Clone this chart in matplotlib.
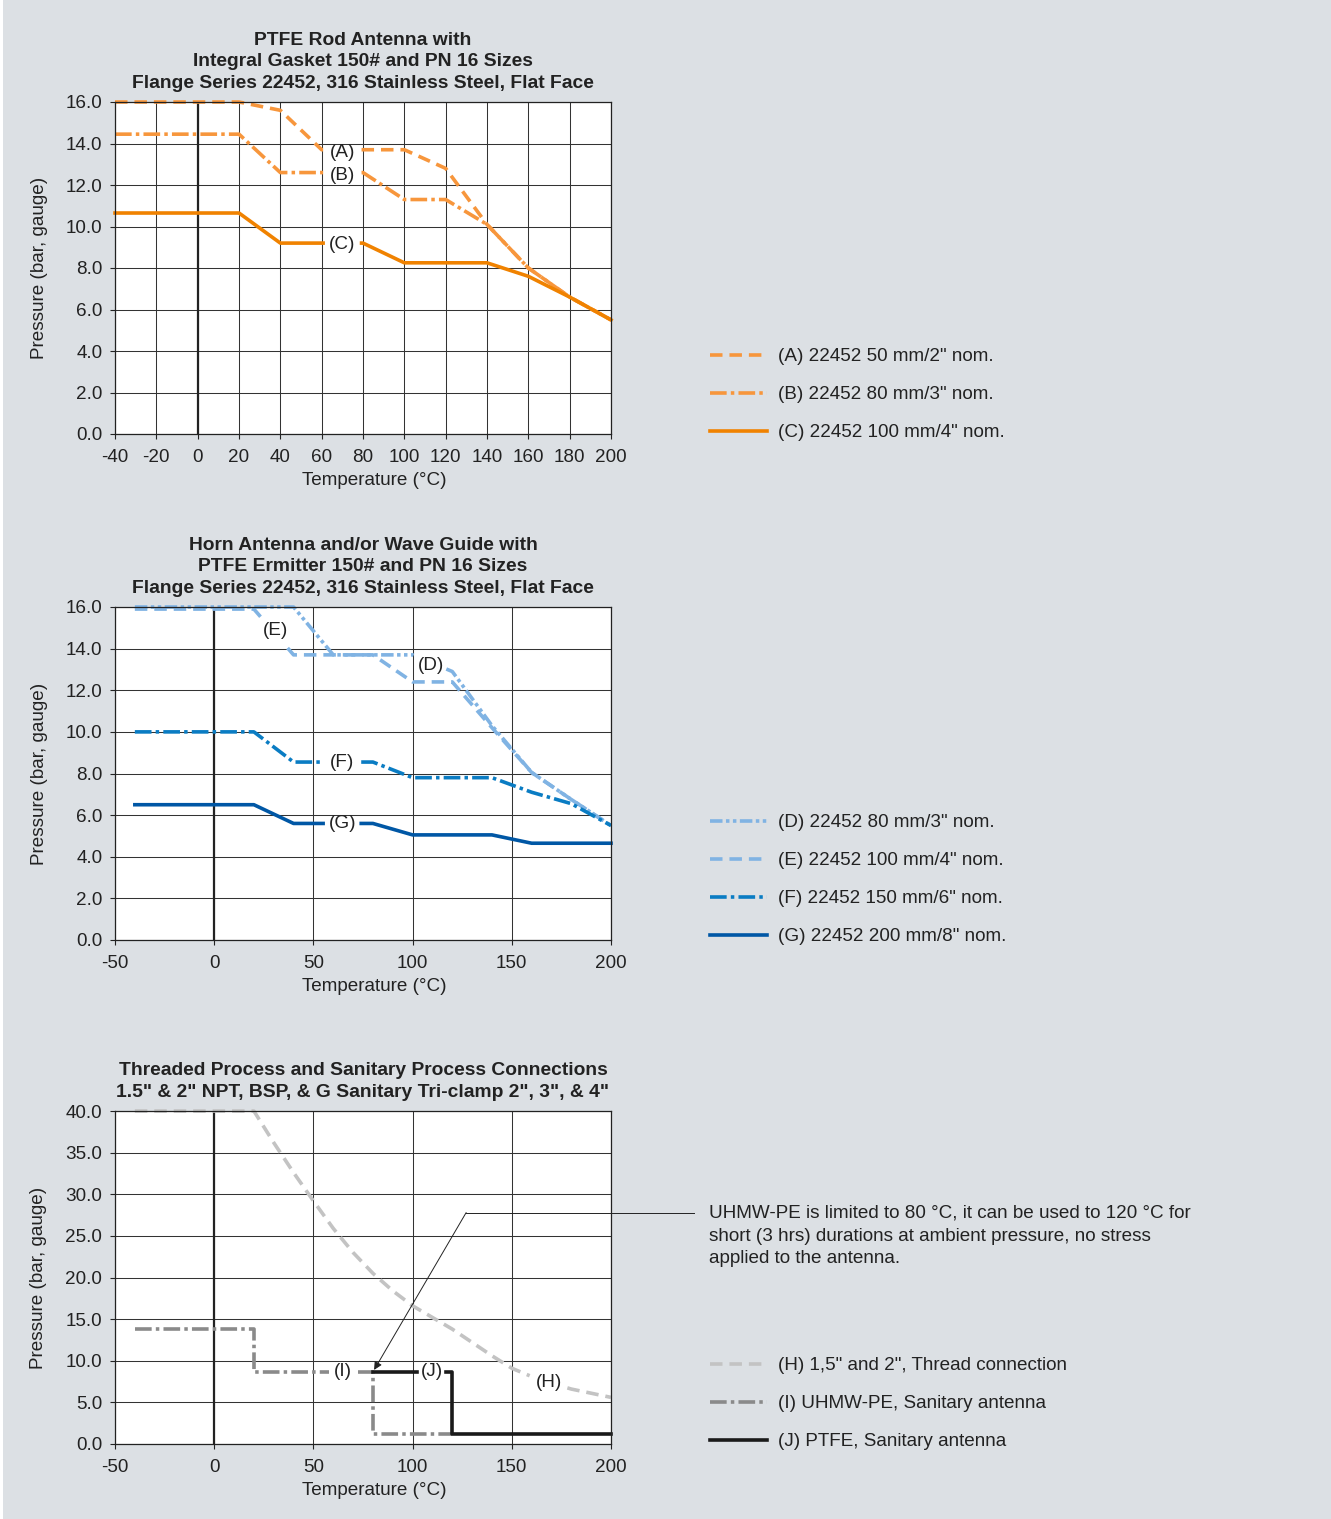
import numpy as np
import matplotlib
matplotlib.use("Agg")
import matplotlib.pyplot as plt
from matplotlib.patches import Rectangle

plt.rcParams['font.family'] = ['Liberation Sans', 'DejaVu Sans']
plt.rcParams['lines.scale_dashes'] = False
plt.rcParams['axes.unicode_minus'] = False
plt.rcParams['text.color'] = '#222222'

# ---------------- data ----------------
# Chart 1: PTFE rod antenna
t_A = [-40, 20, 40, 60, 100, 120, 140, 160, 180, 200]
p_A = [16.0, 16.0, 15.6, 13.7, 13.7, 12.8, 10.1, 8.0, 6.6, 5.5]
t_B = [-40, 20, 40, 80, 100, 120, 140, 160, 180, 200]
p_B = [14.45, 14.45, 12.6, 12.6, 11.3, 11.3, 10.1, 8.0, 6.6, 5.5]
t_C = [-40, 20, 40, 80, 100, 140, 160, 180, 200]
p_C = [10.65, 10.65, 9.2, 9.2, 8.25, 8.25, 7.6, 6.6, 5.5]

# Chart 2: Horn antenna / wave guide
t_D = [-40, 40, 60, 100, 120, 140, 160, 180, 200]
p_D = [16.0, 16.0, 13.7, 13.7, 12.9, 10.3, 8.05, 6.75, 5.5]
t_E = [-40, 20, 40, 80, 100, 120, 140, 160, 180, 200]
p_E = [15.9, 15.9, 13.7, 13.7, 12.4, 12.4, 10.2, 8.05, 6.75, 5.5]
t_F = [-40, 20, 40, 80, 100, 140, 160, 180, 200]
p_F = [10.0, 10.0, 8.55, 8.55, 7.8, 7.8, 7.1, 6.55, 5.5]
t_G = [-40, 20, 40, 80, 100, 140, 160, 200]
p_G = [6.5, 6.5, 5.6, 5.6, 5.05, 5.05, 4.65, 4.65]

# Chart 3: Threaded / sanitary
t_H = [-40, 20, 30, 40, 50, 60, 70, 80, 90, 100, 110, 120, 130, 140, 150, 160, 170, 180, 190, 200]
p_H = [40.0, 40.0, 36.2, 32.6, 29.2, 25.9, 23.0, 20.5, 18.4, 16.6, 15.2, 13.8, 12.2, 10.6, 9.1, 8.1, 7.3, 6.6, 6.1, 5.6]
t_I = [-40, 20, 20, 80, 80, 120]
p_I = [13.8, 13.8, 8.7, 8.7, 1.2, 1.2]
t_J = [80, 120, 120, 200]
p_J = [8.7, 8.7, 1.2, 1.2]

labels1 = ['(A) 22452 50 mm/2" nom.', '(B) 22452 80 mm/3" nom.', '(C) 22452 100 mm/4" nom.']
labels2 = ['(D) 22452 80 mm/3" nom.', '(E) 22452 100 mm/4" nom.',
           '(F) 22452 150 mm/6" nom.', '(G) 22452 200 mm/8" nom.']
labels3 = ['(H) 1,5" and 2", Thread connection', '(I) UHMW-PE, Sanitary antenna',
           '(J) PTFE, Sanitary antenna']

titles = ["PTFE Rod Antenna with\nIntegral Gasket 150# and PN 16 Sizes\nFlange Series 22452, 316 Stainless Steel, Flat Face",
          "Horn Antenna and/or Wave Guide with\nPTFE Ermitter 150# and PN 16 Sizes\nFlange Series 22452, 316 Stainless Steel, Flat Face",
          "Threaded Process and Sanitary Process Connections\n1.5\" & 2\" NPT, BSP, & G Sanitary Tri-clamp 2\", 3\", & 4\""]

note = ("UHMW-PE is limited to 80 \u00b0C, it can be used to 120 \u00b0C for\n"
        "short (3 hrs) durations at ambient pressure, no stress\n"
        "applied to the antenna.")

# ---------------- style ----------------
W, H = 1331, 1519
BG = '#dce0e4'
FS = 13.6
TFS = 13.9
ORANGE_L = '#f7963c'
ORANGE = '#f08200'
BLUE_L = '#80b3e3'
BLUE_M = '#0a7cc3'
BLUE_D = '#0057a5'
GRAY_L = '#c3c3c3'
GRAY_M = '#8a8a8a'
BLACK = '#1a1a1a'
TXT = '#222222'

DASH = (0, (9, 5))
DASHDOT = (0, (12, 3, 2.5, 3))
DASHDOTDOT = (0, (9, 2.5, 2.5, 2.5, 2.5, 2.5))

fig = plt.figure(figsize=(W / 100, H / 100), dpi=100, facecolor=BG)
fig.patches.append(Rectangle((0, 0), 3 / W, 1, transform=fig.transFigure,
                             facecolor='white', edgecolor='none', zorder=0))


def make_axes(top_px, bottom_px):
    ax = fig.add_axes([115 / W, 1 - bottom_px / H, 496 / W, (bottom_px - top_px) / H])
    ax.set_facecolor('white')
    ax.grid(True, color='#333333', lw=0.75)
    ax.set_axisbelow(True)
    for s in ax.spines.values():
        s.set_color(TXT)
        s.set_linewidth(0.9)
    ax.tick_params(direction='out', length=3.6, width=0.8, color=TXT,
                   labelsize=FS, pad=5.5, labelcolor=TXT)
    ax.tick_params(axis='x', pad=7.5)
    ax.set_xlabel('Temperature (\u00b0C)', fontsize=FS, labelpad=4.5, color=TXT)
    ax.xaxis.set_label_coords(0.522, -0.115)
    ax.set_ylabel('Pressure (bar, gauge)', fontsize=FS, labelpad=13, color=TXT)
    ax.axvline(0, color=TXT, lw=1.6, zorder=1.5)
    return ax


def plot_gap(ax, x, y, gap, **kw):
    x = np.asarray(x, float)
    y = np.asarray(y, float)
    if gap is None:
        return ax.plot(x, y, **kw)[0]
    g0, g1 = gap
    ml = x < g0
    mr = x > g1
    xs = np.r_[x[ml], g0, np.nan, g1, x[mr]]
    ys = np.r_[y[ml], np.interp(g0, x, y), np.nan, np.interp(g1, x, y), y[mr]]
    return ax.plot(xs, ys, **kw)[0]


def label(ax, x, y, s):
    ax.text(x, y, s, fontsize=FS, ha='center', va='center', color=TXT, zorder=5)


def legend(ax, handles, labels, top_px):
    ax.legend(handles, labels, loc='upper left',
              bbox_to_anchor=(710 / W, 1 - top_px / H), bbox_transform=fig.transFigure,
              frameon=False, fontsize=FS, handlelength=3.0, handletextpad=0.58,
              labelspacing=1.1, borderpad=0, borderaxespad=0, labelcolor=TXT)


def title(ax, s):
    ax.set_title(s, fontsize=TFS, fontweight='bold', pad=10, color=TXT, linespacing=1.36)


LW = 2.6

# ---------------- chart 1 ----------------
ax1 = make_axes(102, 434)
ax1.set_xlim(-40, 200)
ax1.set_ylim(0, 16)
ax1.set_xticks(np.arange(-40, 201, 20))
ax1.set_yticks(np.arange(0, 16.1, 2))
ax1.yaxis.set_major_formatter(matplotlib.ticker.FormatStrFormatter('%.1f'))
hw1 = 9.3
lA = plot_gap(ax1, t_A, p_A, (70 - hw1, 70 + hw1), color=ORANGE_L, lw=LW, ls=DASH, clip_on=False)
lB = plot_gap(ax1, t_B, p_B, (70 - hw1, 70 + hw1), color=ORANGE_L, lw=LW, ls=DASHDOT, clip_on=False)
lC = plot_gap(ax1, t_C, p_C, (70 - hw1, 70 + hw1), color=ORANGE, lw=LW, clip_on=False)
label(ax1, 70, 13.55, '(A)')
label(ax1, 70, 12.45, '(B)')
label(ax1, 70, 9.15, '(C)')
title(ax1, titles[0])
legend(ax1, [lA, lB, lC], labels1, 348)

# ---------------- chart 2 ----------------
ax2 = make_axes(607, 940)
ax2.set_xlim(-50, 200)
ax2.set_ylim(0, 16)
ax2.set_xticks(np.arange(-50, 201, 50))
ax2.set_yticks(np.arange(0, 16.1, 2))
ax2.yaxis.set_major_formatter(matplotlib.ticker.FormatStrFormatter('%.1f'))
hw2 = 9.6
lD = plot_gap(ax2, t_D, p_D, (100.5, 117), color=BLUE_L, lw=LW, ls=DASHDOTDOT, clip_on=False)
lE = plot_gap(ax2, t_E, p_E, (30.5 - 6.5, 30.5 + 6.5), color=BLUE_L, lw=LW, ls=DASH, clip_on=False)
lF = plot_gap(ax2, t_F, p_F, (64.5 - hw2, 64.5 + hw2), color=BLUE_M, lw=LW, ls=DASHDOT, clip_on=False)
lG = plot_gap(ax2, t_G, p_G, (64.5 - hw2, 64.5 + hw2), color=BLUE_D, lw=LW, clip_on=False)
label(ax2, 31, 14.85, '(E)')
label(ax2, 109.5, 13.2, '(D)')
label(ax2, 64.5, 8.55, '(F)')
label(ax2, 64.5, 5.6, '(G)')
title(ax2, titles[1])
legend(ax2, [lD, lE, lF, lG], labels2, 814)

# ---------------- chart 3 ----------------
ax3 = make_axes(1111, 1444)
ax3.set_xlim(-50, 200)
ax3.set_ylim(0, 40)
ax3.set_xticks(np.arange(-50, 201, 50))
ax3.set_yticks(np.arange(0, 40.1, 5))
ax3.yaxis.set_major_formatter(matplotlib.ticker.FormatStrFormatter('%.1f'))
lH = plot_gap(ax3, t_H, p_H, (159, 178), color=GRAY_L, lw=LW, ls=DASH, clip_on=False)
lI = plot_gap(ax3, t_I, p_I, (58, 72.5), color=GRAY_M, lw=LW, ls=DASHDOT, clip_on=False)
lJ = plot_gap(ax3, t_J, p_J, (102, 117), color=BLACK, lw=LW, clip_on=False)
label(ax3, 65, 8.7, '(I)')
label(ax3, 109.5, 8.7, '(J)')
label(ax3, 168.5, 7.4, '(H)')
title(ax3, titles[2])
legend(ax3, [lH, lI, lJ], labels3, 1357)

# annotation
ax3.plot([127, 242], [27.8, 27.8], color=TXT, lw=0.7, clip_on=False, zorder=6)
ax3.annotate('', xy=(80.6, 8.9), xytext=(127, 27.8),
             arrowprops=dict(arrowstyle='-|>', color=TXT, lw=0.7,
                             mutation_scale=12, shrinkA=0, shrinkB=0), zorder=6)
fig.text(709 / W, 1 - 1205 / H, note, fontsize=FS, va='top', ha='left',
         color=TXT, linespacing=1.43)

fig.savefig('out.png', dpi=100, facecolor=BG)
